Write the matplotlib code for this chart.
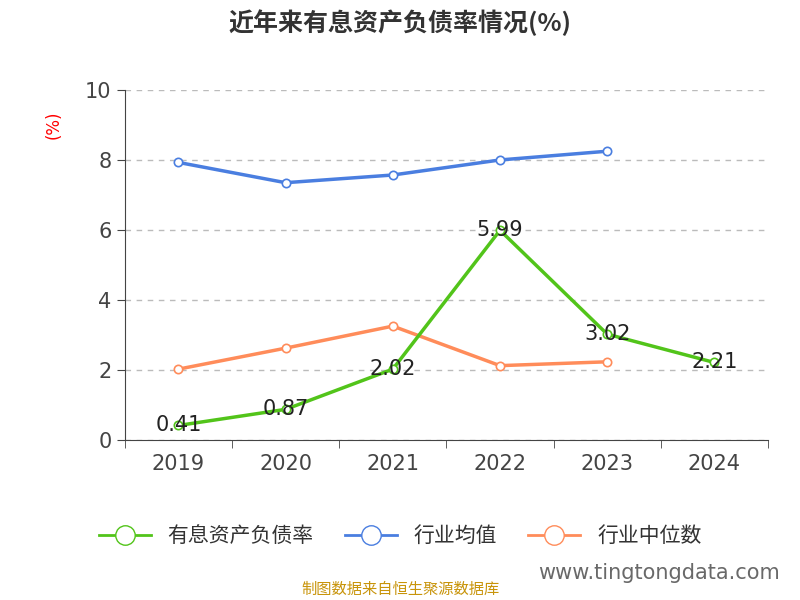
import matplotlib
matplotlib.use("Agg")
import matplotlib.pyplot as plt
from matplotlib import font_manager

cjk = [f.name for f in font_manager.fontManager.ttflist if "CJK" in f.name]
cjk_name = "Noto Sans CJK SC" if "Noto Sans CJK SC" in cjk else (cjk[0] if cjk else "DejaVu Sans")
plt.rcParams["font.family"] = "sans-serif"
plt.rcParams["font.sans-serif"] = ["DejaVu Sans", cjk_name]

years = ["2019", "2020", "2021", "2022", "2023", "2024"]
debt_ratio = [0.41, 0.87, 2.02, 5.99, 3.02, 2.21]
industry_avg = [7.93, 7.35, 7.57, 8.00, 8.25]
industry_median = [2.02, 2.62, 3.25, 2.12, 2.23]

GREEN = "#52c41a"
BLUE = "#4a7ee0"
ORANGE = "#ff8c5a"

fig = plt.figure(figsize=(8, 6), dpi=100)
ax = fig.add_axes([0.156, 0.267, 0.804, 0.583])

x = list(range(len(years)))
mk = dict(marker="o", markersize=6, markerfacecolor="white", markeredgewidth=1.2)
ax.plot(x[:5], industry_avg, color=BLUE, lw=2.5, **mk, zorder=3)
ax.plot(x[:5], industry_median, color=ORANGE, lw=2.5, **mk, zorder=3)
ax.plot(x, debt_ratio, color=GREEN, lw=2.5, **mk, zorder=4)
for xi, v in zip(x, debt_ratio):
    ax.text(xi, v, f"{v:.2f}", ha="center", va="center", fontsize=15, color="#222222", zorder=5)

ax.set_xlim(-0.5, 5.5)
ax.set_ylim(0, 10)
ax.set_yticks([0, 2, 4, 6, 8, 10])
ax.set_xticks(x)
ax.set_xticklabels(years)
ax.set_xticks([i - 0.5 for i in range(7)], minor=True)
ax.tick_params(axis="x", which="major", length=0, labelsize=15, colors="#444444", pad=10)
ax.tick_params(axis="x", which="minor", length=6, color="#444444")
ax.tick_params(axis="y", labelsize=15, colors="#444444", length=6)
ax.grid(axis="y", ls=(0, (4, 4)), color="#bbbbbb", lw=1)
for s in ["top", "right"]:
    ax.spines[s].set_visible(False)
ax.spines["left"].set_color("#444444")
ax.spines["bottom"].set_color("#444444")
ax.text(-0.11, 0.9, "(%)", transform=ax.transAxes, rotation=90, color="red",
        fontsize=12, ha="center", va="center")

fig.text(0.5, 0.962, "近年来有息资产负债率情况(%)", ha="center", va="center",
         fontsize=18, fontweight="bold", color="#333333", family=cjk_name)

handles = [
    plt.Line2D([], [], color=GREEN, lw=2, marker="o", markersize=14, markerfacecolor="white"),
    plt.Line2D([], [], color=BLUE, lw=2, marker="o", markersize=14, markerfacecolor="white"),
    plt.Line2D([], [], color=ORANGE, lw=2, marker="o", markersize=14, markerfacecolor="white"),
]
fig.legend(handles, ["有息资产负债率", "行业均值", "行业中位数"], loc="center",
           bbox_to_anchor=(0.5, 0.107), ncol=3, frameon=False,
           prop={"family": cjk_name, "size": 15},
           handlelength=2.5, columnspacing=1.5, labelcolor="#333333")

fig.text(0.5, 0.018, "制图数据来自恒生聚源数据库", ha="center", va="center",
         fontsize=11, color="#c8940a", family=cjk_name)
fig.text(0.975, 0.045, "www.tingtongdata.com", ha="right", va="center",
         fontsize=15, color="#444444", alpha=0.8)

fig.savefig("out.png", dpi=100)
